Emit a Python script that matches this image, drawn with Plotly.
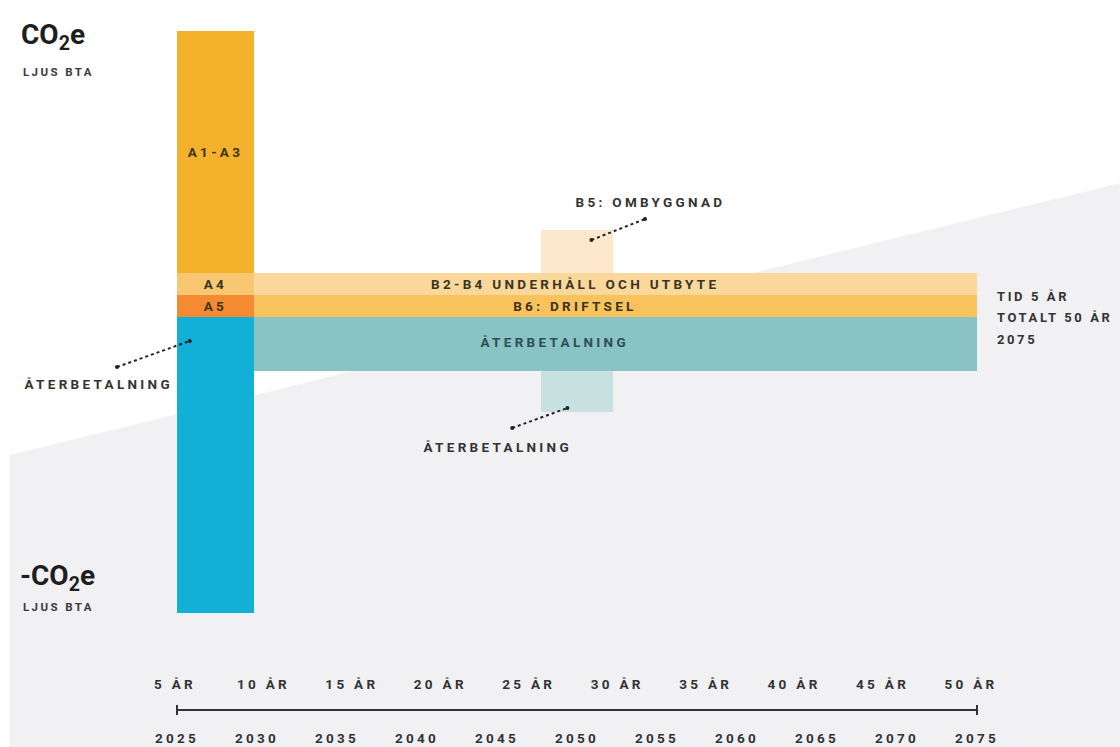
import plotly.graph_objects as go

# ---------------- data ----------------
segments = ["A1-A3", "A4", "A5", "Återbetalning (byggskede)",
            "B2-B4 underhåll och utbyte", "B6: driftsel", "B5: ombyggnad",
            "Återbetalning (drift)", "Återbetalning (ombyggnad)"]
start_year = [2025, 2025, 2025, 2025, 2029.8, 2029.8, 2047.75, 2029.8, 2047.75]
end_year = [2029.8, 2029.8, 2029.8, 2029.8, 2075, 2075, 2052.25, 2075, 2052.25]
base_value = [4.4, 2.2, 0.0, 0.0, 2.2, 0.0, 4.4, 0.0, -5.4]
seg_value = [24.2, 2.2, 2.2, -29.6, 2.2, 2.2, 4.3, -5.4, -4.1]
seg_color = ["#F4B12B", "#F9C772", "#F48A32", "#12B0D6",
             "#FAD79B", "#F8C35C", "#FDE8CD", "#89C3C4", "#C6E1E0"]

years = [2025, 2030, 2035, 2040, 2045, 2050, 2055, 2060, 2065, 2070, 2075]
year_labels = [str(y) for y in years]
ar_values = [5, 10, 15, 20, 25, 30, 35, 40, 45, 50]
ar_labels = [f"{a} ÅR" for a in ar_values]
timeline_years = [2025, 2075]

# ---------------- figure ----------------
FONT = "Roboto"
DARK = "#333333"
BARTXT = "#3A3422"
FS = 13.5

centers = [(s + e) / 2 for s, e in zip(start_year, end_year)]
widths = [e - s for s, e in zip(start_year, end_year)]

fig = go.Figure()
fig.add_trace(go.Bar(
    x=centers, y=seg_value, base=base_value, width=widths,
    marker=dict(color=seg_color, line=dict(width=0)),
    hovertext=segments, hoverinfo="text", showlegend=False,
))

# timeline
fig.add_trace(go.Scatter(
    x=timeline_years, y=[-39.3, -39.3], mode="lines+markers",
    line=dict(color=DARK, width=2),
    marker=dict(symbol="line-ns", size=7, line=dict(color=DARK, width=2)),
    hoverinfo="skip", showlegend=False,
))

# leader lines (annotation geometry)
leaders = [
    ([2050.9, 2054.25], [7.7, 9.8]),
    ([2045.95, 2049.4], [-11.1, -9.1]),
    ([2021.25, 2025.8], [-5.0, -2.4]),
]
for lx, ly in leaders:
    fig.add_trace(go.Scatter(
        x=lx, y=ly, mode="lines+markers",
        line=dict(color="#222222", width=2, dash="dot"),
        marker=dict(size=4, color="#222222"),
        hoverinfo="skip", showlegend=False,
    ))

# invisible trace for the secondary "ÅR" axis
fig.add_trace(go.Scatter(x=ar_values, y=[None] * len(ar_values), xaxis="x2",
                         mode="markers", marker=dict(opacity=0),
                         hoverinfo="skip", showlegend=False))


def ann(text, x, y, size=FS, color=DARK, xanchor="center", xref="x", yref="y",
        cls=None):
    fig.add_annotation(text=text, x=x, y=y, xref=xref, yref=yref,
                       showarrow=False, xanchor=xanchor, yanchor="middle",
                       align=xanchor if xanchor != "center" else "center",
                       name=cls,
                       font=dict(family=FONT, size=size, color=color, weight="bold"))


# labels inside bars
ann("A1-A3", 2027.4, 16.5, color=BARTXT)
ann("A4", 2027.4, 3.3, color=BARTXT)
ann("A5", 2027.4, 1.1, color=BARTXT)
ann("B2-B4 UNDERHÅLL OCH UTBYTE", 2049.9, 3.3, color=BARTXT)
ann("B6: DRIFTSEL", 2049.9, 1.1, color=BARTXT)
ann("ÅTERBETALNING", 2048.6, -2.5, color="#2F4D55")
# callouts
ann("B5: OMBYGGNAD", 2054.6, 11.5)
ann("ÅTERBETALNING", 2045.0, -13.0)
ann("ÅTERBETALNING", 2020.1, -6.7)
# right side info (slightly smaller so it stays inside the picture)
ann("TID 5 ÅR", 2076.1, 2.1, size=13, xanchor="left")
ann("TOTALT 50 ÅR", 2076.1, 0.0, size=13, xanchor="left")
ann("2075", 2076.1, -2.2, size=13, xanchor="left")
# y-side titles
ann("CO<sub>2</sub>e", 19 / 1120, 1 - 36 / 747, size=28, color="#1E1E1E",
    xanchor="left", xref="paper", yref="paper")
ann("LJUS BTA", 21 / 1120, 1 - 72 / 747, size=11.5, color="#3A3A3A",
    xanchor="left", xref="paper", yref="paper")
ann("-CO<sub>2</sub>e", 18 / 1120, 1 - 577 / 747, size=28, color="#1E1E1E",
    xanchor="left", xref="paper", yref="paper")
ann("LJUS BTA", 21 / 1120, 1 - 607 / 747, size=11.5, color="#3A3A3A",
    xanchor="left", xref="paper", yref="paper")

# background light-gray wedge
fig.add_shape(type="path", xref="paper", yref="paper", layer="below",
              path=f"M {10/1120} {1-455/747} L 1 {1-183/747} L 1 0 L {10/1120} 0 Z",
              fillcolor="#F1F1F3", line=dict(width=0))

ar_px0, ar_scale = 175.0, 796.0 / 45.0
fig.update_layout(
    width=1120, height=747, autosize=False,
    margin=dict(l=0, r=0, t=0, b=0),
    paper_bgcolor="#FFFFFF", plot_bgcolor="rgba(0,0,0,0)",
    barmode="overlay", bargap=0,
    xaxis=dict(range=[2013.9375, 2083.9375], tickvals=years, ticktext=year_labels,
               showgrid=False, zeroline=False, showline=False, ticks="",
               anchor="free", position=1 - 728 / 747, side="bottom",
               tickfont=dict(family=FONT, size=FS, color=DARK, weight="bold"),
               fixedrange=True),
    xaxis2=dict(range=[5 - ar_px0 / ar_scale, 5 + (1120 - ar_px0) / ar_scale],
                overlaying="x", tickvals=ar_values, ticktext=ar_labels,
                showgrid=False, zeroline=False, showline=False, ticks="",
                anchor="free", position=1 - 674 / 747, side="bottom",
                tickfont=dict(family=FONT, size=FS, color=DARK, weight="bold"),
                fixedrange=True),
    yaxis=dict(range=[-43.0, 31.7], visible=False, fixedrange=True),
    showlegend=False,
)

post = """
document.querySelectorAll('.annotation-text, .xtick text, .x2tick text').forEach(function(e){
  var fs = parseFloat(e.style.fontSize || '12');
  if (fs < 20) {
    var ls = '3.3px';
    if (fs < 12) ls = '2.4px';
    else if (fs < 13.2) ls = '2.6px';
    e.style.letterSpacing = ls;
  }
});
"""
fig.write_html("out.html", post_script=post)
